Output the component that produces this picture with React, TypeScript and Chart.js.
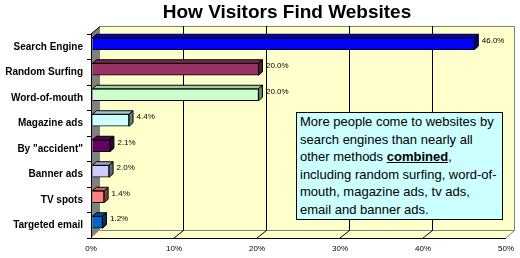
import { useEffect, useRef } from 'react';
import { Chart, registerables } from 'chart.js';

Chart.register(...registerables);

const categories = [
  'Search Engine',
  'Random Surfing',
  'Word-of-mouth',
  'Magazine ads',
  'By "accident"',
  'Banner ads',
  'TV spots',
  'Targeted email',
];
const shares = [46.0, 20.0, 20.0, 4.4, 2.1, 2.0, 1.4, 1.2];
const barColors = ['#0000FF', '#993366', '#CCFFCC', '#CCFFFF', '#660066', '#CCCCFF', '#FF8080', '#0066CC'];
const xTickValues = [0, 10, 20, 30, 40, 50];

const FONT = "'Liberation Sans', Arial, sans-serif";
const WALL_DX = 9;
const WALL_DY = 8;
const BAR_DX = 4;
const BAR_DY = 3.5;
const BAR_SHIFT_X = 1.5;
const BAR_SHIFT_Y = -3;

function shade(hex: string, f: number) {
  const n = parseInt(hex.slice(1), 16);
  const r = Math.round(((n >> 16) & 255) * f);
  const g = Math.round(((n >> 8) & 255) * f);
  const b = Math.round((n & 255) * f);
  return `rgb(${r},${g},${b})`;
}

function poly(ctx: CanvasRenderingContext2D, pts: number[][]) {
  ctx.beginPath();
  ctx.moveTo(pts[0][0], pts[0][1]);
  for (let i = 1; i < pts.length; i++) ctx.lineTo(pts[i][0], pts[i][1]);
  ctx.closePath();
  ctx.fill();
  ctx.stroke();
}

const threeD = {
  id: 'threeD',
  beforeDraw(chart: any) {
    const { ctx, chartArea: a, scales } = chart;
    const xs = scales.x;
    const L = a.left, R = a.right, T = a.top, B = a.bottom;
    const bl = L + WALL_DX, br = R + WALL_DX, bt = T - WALL_DY, bb = B - WALL_DY;
    ctx.save();
    ctx.fillStyle = '#FFFFCC';
    ctx.fillRect(bl, bt, br - bl, bb - bt);
    ctx.beginPath();
    ctx.moveTo(L, B);
    ctx.lineTo(R, B);
    ctx.lineTo(br, bb);
    ctx.lineTo(bl, bb);
    ctx.closePath();
    ctx.fill();
    // side wall
    ctx.fillStyle = '#808080';
    ctx.beginPath();
    ctx.moveTo(L, T);
    ctx.lineTo(bl, bt);
    ctx.lineTo(bl, bb);
    ctx.lineTo(L, B);
    ctx.closePath();
    ctx.fill();
    // outlines
    ctx.lineWidth = 1;
    ctx.strokeStyle = '#808080';
    ctx.beginPath();
    ctx.moveTo(bl, bt + 0.5);
    ctx.lineTo(br - 0.5, bt + 0.5);
    ctx.lineTo(br - 0.5, bb + 0.5);
    ctx.lineTo(bl, bb + 0.5);
    ctx.moveTo(br - 0.5, bb + 0.5);
    ctx.lineTo(R, B);
    ctx.stroke();
    ctx.strokeStyle = '#000';
    ctx.beginPath();
    ctx.moveTo(L, T);
    ctx.lineTo(bl, bt + 0.5);
    ctx.stroke();
    // grid lines on back wall and floor
    xs.ticks.forEach((t: any) => {
      if (t.value <= 0 || t.value >= 50) return;
      const px = xs.getPixelForValue(t.value);
      const bx = Math.round(px + WALL_DX) + 0.5;
      ctx.beginPath();
      ctx.moveTo(bx, bt);
      ctx.lineTo(bx, bb + 0.5);
      ctx.lineTo(px, B);
      ctx.stroke();
    });
    ctx.restore();
  },
  beforeDatasetsDraw(chart: any) {
    chart.ctx.save();
    chart.ctx.translate(BAR_SHIFT_X, BAR_SHIFT_Y);
  },
  afterDatasetsDraw(chart: any) {
    const { ctx } = chart;
    const meta = chart.getDatasetMeta(0);
    meta.data.forEach((bar: any, i: number) => {
      const p = bar.getProps(['x', 'y', 'base', 'height'], true);
      const left = Math.min(p.base, p.x);
      const right = Math.max(p.base, p.x);
      const top = p.y - p.height / 2;
      const bottom = p.y + p.height / 2;
      const c = barColors[i];
      ctx.lineWidth = 1;
      ctx.strokeStyle = '#000';
      ctx.fillStyle = shade(c, 0.8);
      poly(ctx, [
        [left, top],
        [left + BAR_DX, top - BAR_DY],
        [right + BAR_DX, top - BAR_DY],
        [right, top],
      ]);
      ctx.fillStyle = shade(c, 0.5);
      poly(ctx, [
        [right, top],
        [right + BAR_DX, top - BAR_DY],
        [right + BAR_DX, bottom - BAR_DY],
        [right, bottom],
      ]);
      ctx.fillStyle = '#000';
      ctx.font = `8px ${FONT}`;
      ctx.textBaseline = 'middle';
      ctx.textAlign = 'left';
      ctx.fillText(shares[i].toFixed(1) + '%', right + BAR_DX + 3.5, p.y - 3);
    });
    ctx.restore();
  },
};

export default function App() {
  const ref = useRef<HTMLCanvasElement | null>(null);
  useEffect(() => {
    if (!ref.current) return;
    const chart = new Chart(ref.current, {
      type: 'bar',
      data: {
        labels: categories,
        datasets: [
          {
            data: shares,
            backgroundColor: barColors,
            borderColor: '#000',
            borderWidth: 1,
            barThickness: 12,
          },
        ],
      },
      options: {
        indexAxis: 'y',
        responsive: false,
        animation: false,
        devicePixelRatio: 1,
        layout: { padding: { left: 0, top: 34, right: 12, bottom: 0 } },
        plugins: {
          legend: { display: false },
          title: { display: false },
          tooltip: { enabled: false },
        },
        scales: {
          x: {
            type: 'linear',
            min: 0,
            max: 50,
            position: 'bottom',
            afterFit: (s: any) => {
              s.height = 20;
            },
            afterBuildTicks: (s: any) => {
              s.ticks = xTickValues.map((v) => ({ value: v }));
            },
            grid: { display: false, drawTicks: false },
            border: { display: true, color: '#000', width: 1 },
            ticks: {
              padding: 6,
              color: '#000',
              font: { family: FONT, size: 8 },
              callback: (v: any) => v + '%',
            },
          },
          y: {
            position: 'left',
            afterFit: (s: any) => {
              s.width = 91;
            },
            grid: {
              display: true,
              drawOnChartArea: false,
              drawTicks: true,
              tickLength: 4,
              color: '#000',
              offset: true,
            },
            border: { display: true, color: '#000', width: 1 },
            ticks: {
              padding: 4,
              color: '#000',
              font: { family: FONT, size: 10, weight: 'bold' },
            },
          },
        },
      } as any,
      plugins: [threeD as any],
    });
    return () => chart.destroy();
  }, []);

  return (
    <div style={{ position: 'absolute', left: 0, top: 0, width: 520, height: 258, background: '#fff', overflow: 'hidden' }}>
      <canvas ref={ref} width={520} height={258} style={{ position: 'absolute', left: 0, top: 0, width: 520, height: 258 }} />
      <div
        style={{
          position: 'absolute',
          left: 287,
          top: 2,
          transform: 'translateX(-50%)',
          whiteSpace: 'nowrap',
          fontFamily: FONT,
          fontWeight: 'bold',
          fontSize: 19,
          lineHeight: '19px',
          color: '#000',
        }}
      >
        How Visitors Find Websites
      </div>
      <div
        style={{
          position: 'absolute',
          left: 296,
          top: 112,
          width: 207,
          height: 108,
          boxSizing: 'border-box',
          border: '1px solid #000',
          background: '#CCFFFF',
          padding: '0 0 0 3px',
          fontFamily: FONT,
          fontSize: 13,
          lineHeight: '17.5px',
          color: '#000',
          whiteSpace: 'nowrap',
        }}
      >
        More people come to websites by
        <br />
        search engines than nearly all
        <br />
        other methods <b><u>combined</u></b>,
        <br />
        including random surfing, word-of-
        <br />
        mouth, magazine ads, tv ads,
        <br />
        email and banner ads.
      </div>
    </div>
  );
}
